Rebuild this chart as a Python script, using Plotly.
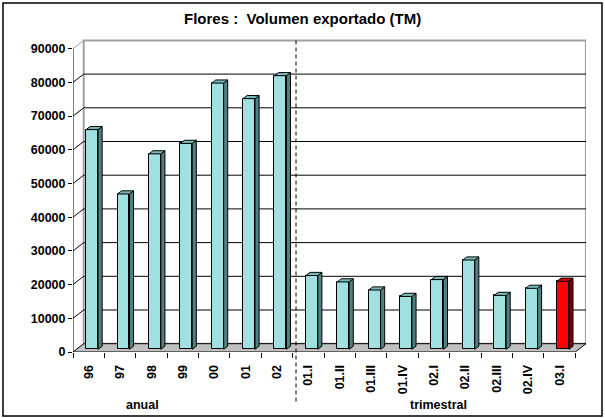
import plotly.graph_objects as go

# ---------------- data ----------------
categories = ["96", "97", "98", "99", "00", "01", "02",
              "01.I", "01.II", "01.III", "01.IV", "02.I", "02.II", "02.III", "02.IV", "03.I"]
volumen_tm = [65200, 46100, 58000, 61100, 79000, 74400, 81200,
              21900, 20000, 17600, 15700, 20700, 26500, 16000, 18100, 20200]
highlight = [False] * 15 + [True]
y_ticks = [0, 10000, 20000, 30000, 40000, 50000, 60000, 70000, 80000, 90000]
group_labels = ["anual", "trimestral"]
n_annual = 7

# ---------------- geometry ----------------
W, H = 605, 418
ML, MR, MT, MB = 73, 19, 38, 66
PW, PH = W - ML - MR, H - MT - MB
PX_PER_CAT = 31.39
PX_PER_VAL = 33.7 / 10000.0
XMIN = -0.5
XMAX = XMIN + PW / PX_PER_CAT
YMAX = PH / PX_PER_VAL
n = len(categories)
DXW = 10.7 / PX_PER_CAT      # wall depth (x units)
DYW = 8.3 / PX_PER_VAL       # wall depth (y units)
D_F, D_B = 0.32, 0.70        # bar depth position (fraction of wall depth)
BW = 0.38                    # bar width (category units)
VTOP = y_ticks[-1]


def P(x, v, d):
    return x + d * DXW, v + d * DYW


def px2paper_x(px):
    return (px - ML) / PW


def px2paper_y(py):
    return (H - MB - py) / PH


GRID = "#000000"
WALLEDGE = "#a0a0a0"

shapes = []
# back wall
bx0, by0 = P(XMIN, 0, 1)
bx1, by1 = P(n - 0.5, VTOP, 1)
shapes.append(dict(type="rect", xref="x", yref="y", x0=bx0, y0=by0, x1=bx1, y1=by1,
                   fillcolor="white", line=dict(color=WALLEDGE, width=2), layer="below"))
# back wall gridlines and side wall diagonals
for t in y_ticks[1:]:
    col = GRID if t < VTOP else WALLEDGE
    if t < VTOP:
        gx0, gy = P(XMIN, t, 1)
        gx1, _ = P(n - 0.5, t, 1)
        shapes.append(dict(type="line", xref="x", yref="y", x0=gx0, y0=gy, x1=gx1, y1=gy,
                           line=dict(color=GRID, width=1), layer="below"))
    dx1, dy1 = P(XMIN, t, 1)
    shapes.append(dict(type="line", xref="x", yref="y", x0=XMIN, y0=t, x1=dx1, y1=dy1,
                       line=dict(color=col, width=1), layer="below"))
# floor
f = [P(XMIN, 0, 0), P(n - 0.5, 0, 0), P(n - 0.5, 0, 1), P(XMIN, 0, 1)]
path = "M {} {} L {} {} L {} {} L {} {} Z".format(*[c for pt in f for c in pt])
shapes.append(dict(type="path", xref="x", yref="y", path=path, fillcolor="#c0c0c0",
                   line=dict(color="black", width=1), layer="below"))
# front value axis line
shapes.append(dict(type="line", xref="x", yref="y", x0=XMIN, y0=0, x1=XMIN, y1=VTOP,
                   line=dict(color="black", width=1), layer="below"))
# separator annual / quarterly
shapes.append(dict(type="line", xref="x", yref="paper",
                   x0=n_annual - 0.5 + 0.105, x1=n_annual - 0.5 + 0.105,
                   y0=px2paper_y(40.5), y1=px2paper_y(404),
                   line=dict(color="black", width=1, dash="4px,3px")))
# chart border
shapes.append(dict(type="rect", xref="paper", yref="paper",
                   x0=px2paper_x(3), x1=px2paper_x(602), y0=px2paper_y(3), y1=px2paper_y(416),
                   line=dict(color="black", width=1.5), fillcolor="rgba(0,0,0,0)"))

# ---------------- bars ----------------
front_cols = ["#ff0000" if h else "#a0e0e0" for h in highlight]
fig = go.Figure()
fig.add_trace(go.Bar(
    x=[i + D_F * DXW for i in range(n)], y=volumen_tm, base=[D_F * DYW] * n, width=BW,
    marker=dict(color=front_cols, line=dict(color="black", width=1)),
    hoverinfo="skip", showlegend=False))


def faces(idx):
    sx, sy, tx, ty = [], [], [], []
    for i in idx:
        v = volumen_tm[i]
        xl, xr = i - BW / 2, i + BW / 2
        side = [P(xr, 0, D_F), P(xr, v, D_F), P(xr, v, D_B), P(xr, 0, D_B), P(xr, 0, D_F)]
        top = [P(xl, v, D_F), P(xr, v, D_F), P(xr, v, D_B), P(xl, v, D_B), P(xl, v, D_F)]
        for a, b in side:
            sx.append(a); sy.append(b)
        sx.append(None); sy.append(None)
        for a, b in top:
            tx.append(a); ty.append(b)
        tx.append(None); ty.append(None)
    return sx, sy, tx, ty


groups = [([i for i in range(n) if not highlight[i]], "#508080", "#78b8b8"),
          ([i for i in range(n) if highlight[i]], "#800000", "#d00000")]
for idx, side_col, top_col in groups:
    sx, sy, tx, ty = faces(idx)
    fig.add_trace(go.Scatter(x=sx, y=sy, mode="lines", fill="toself", fillcolor=side_col,
                             line=dict(color="black", width=1), hoverinfo="skip", showlegend=False))
    fig.add_trace(go.Scatter(x=tx, y=ty, mode="lines", fill="toself", fillcolor=top_col,
                             line=dict(color="black", width=1), hoverinfo="skip", showlegend=False))

# dummy trace for secondary x axis (boundary ticks)
fig.add_trace(go.Scatter(x=[XMIN], y=[0], xaxis="x2", mode="markers",
                         marker=dict(opacity=0), hoverinfo="skip", showlegend=False))

tick_font = dict(family="Liberation Sans, Arial, sans-serif", size=12.5, color="black", weight="bold")

annotations = [
    dict(text="Flores :  Volumen exportado (TM)", x=px2paper_x(302), y=px2paper_y(19),
         xref="paper", yref="paper", showarrow=False, xanchor="center", yanchor="middle",
         font=dict(family="Liberation Sans, Arial, sans-serif", size=15, color="black", weight="bold")),
    dict(text=group_labels[0], x=px2paper_x(142.7), y=px2paper_y(404.5),
         xref="paper", yref="paper", showarrow=False, xanchor="center", yanchor="middle",
         font=dict(family="Liberation Sans, Arial, sans-serif", size=12.5, color="black", weight="bold")),
    dict(text=group_labels[1], x=px2paper_x(438.8), y=px2paper_y(404.5),
         xref="paper", yref="paper", showarrow=False, xanchor="center", yanchor="middle",
         font=dict(family="Liberation Sans, Arial, sans-serif", size=12.5, color="black", weight="bold")),
]

fig.update_layout(
    width=W, height=H,
    margin=dict(l=ML, r=MR, t=MT, b=MB, pad=0),
    paper_bgcolor="white", plot_bgcolor="white",
    shapes=shapes, annotations=annotations,
    bargap=0,
    xaxis=dict(range=[XMIN, XMAX], tickmode="array", tickvals=list(range(n)), ticktext=categories,
               tickangle=-90, ticks="outside", ticklen=7, tickcolor="rgba(0,0,0,0)",
               showgrid=False, zeroline=False, showline=False, tickfont=tick_font, fixedrange=True),
    xaxis2=dict(range=[XMIN, XMAX], overlaying="x", anchor="y", side="bottom",
                tickmode="array", tickvals=[i - 0.5 for i in range(n + 1)],
                ticks="outside", ticklen=5, tickwidth=1, tickcolor="black",
                showticklabels=False, showgrid=False, zeroline=False, showline=False),
    yaxis=dict(range=[0, YMAX], tickmode="array", tickvals=y_ticks, tickformat="d",
               ticks="outside", ticklen=4, tickwidth=1, tickcolor="black",
               showgrid=False, zeroline=False, showline=False, tickfont=tick_font, fixedrange=True),
)

fig.write_html("out.html", config={"displayModeBar": False},
               post_script="document.body.style.margin='0px';document.body.style.overflow='hidden';")
